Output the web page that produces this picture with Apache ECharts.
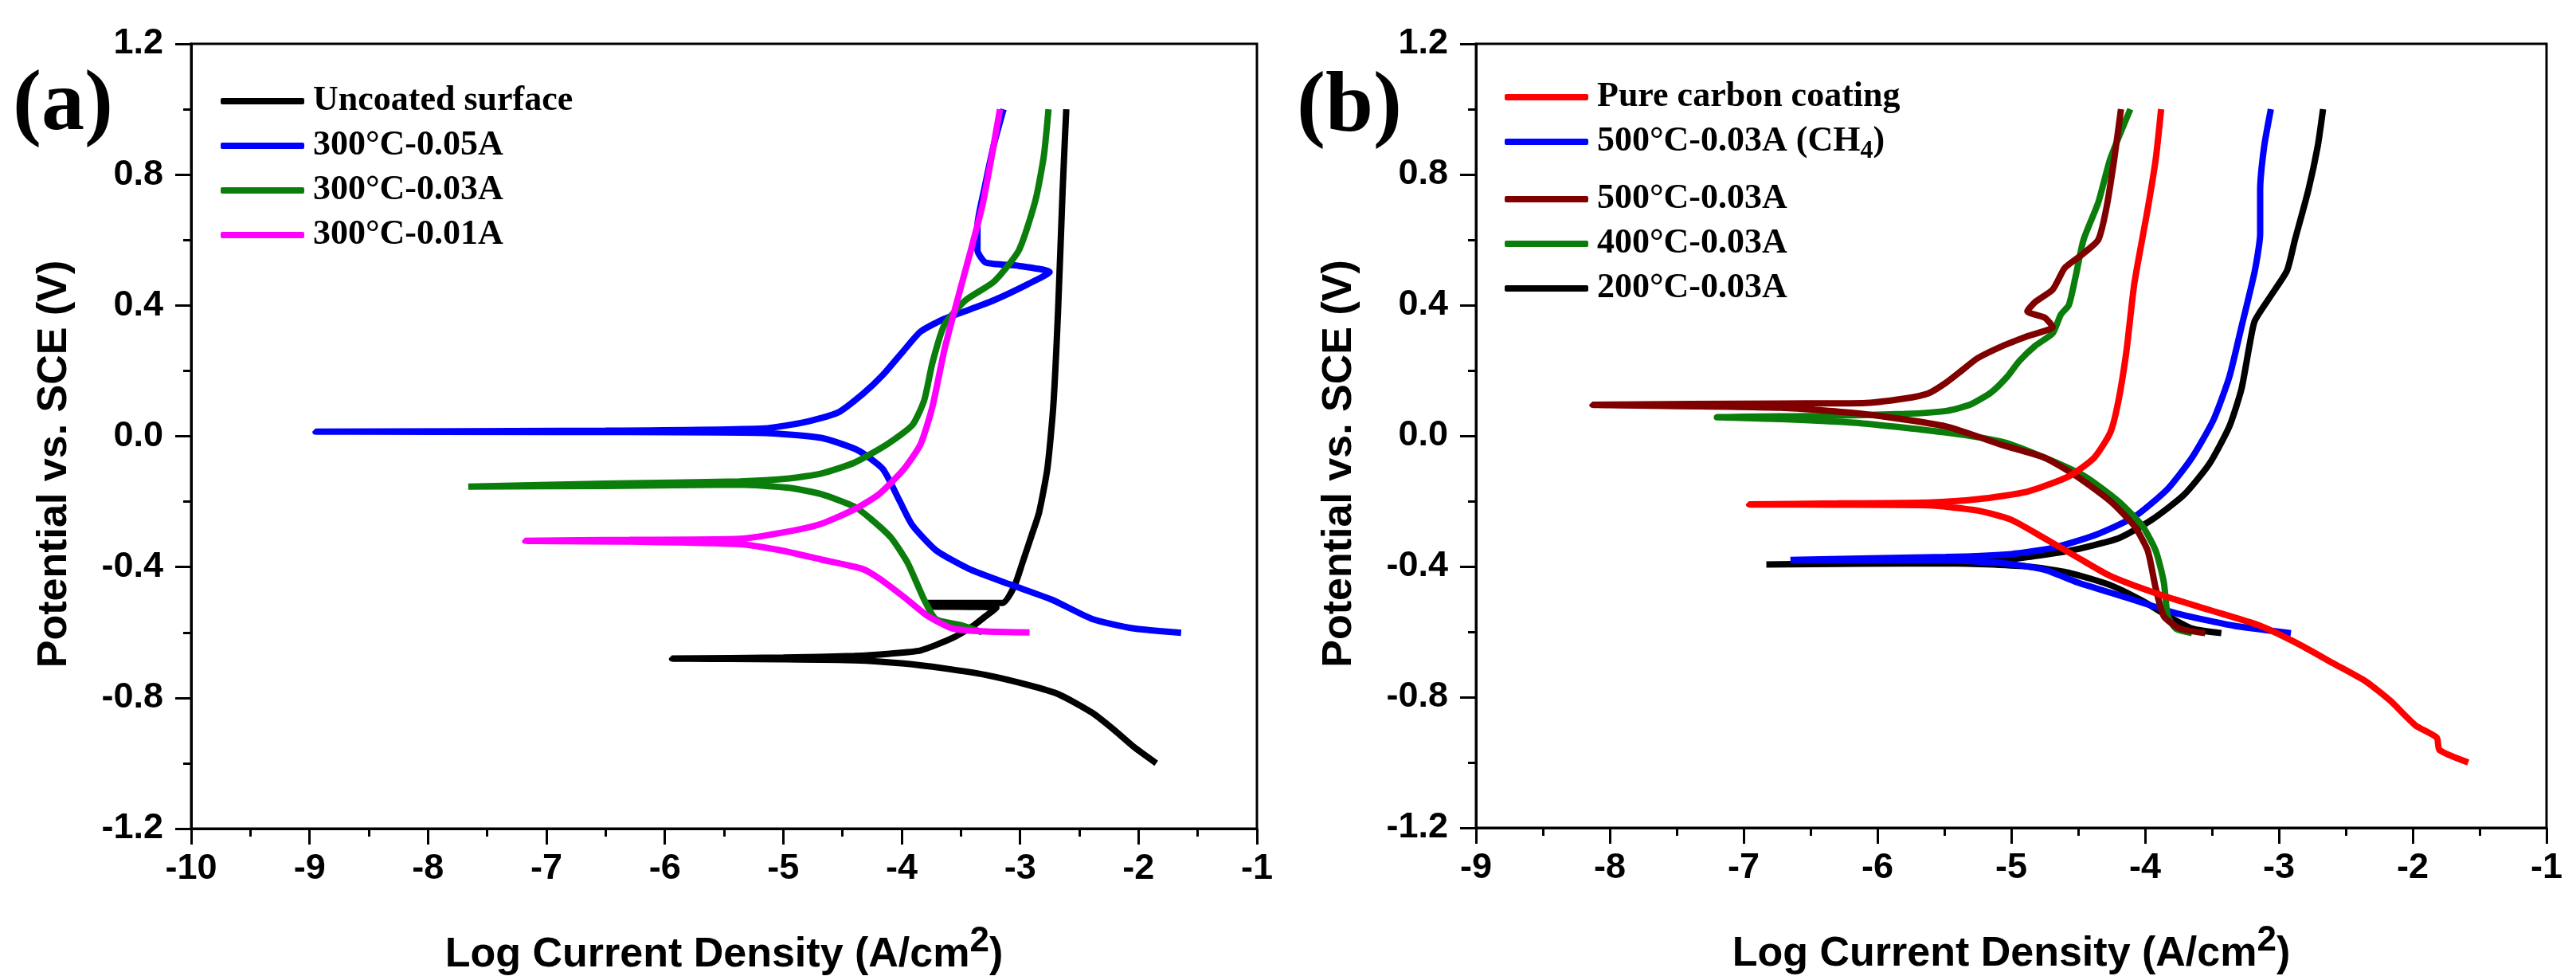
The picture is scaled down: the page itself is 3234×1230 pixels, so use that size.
<!DOCTYPE html>
<html>
<head>
<meta charset="utf-8">
<script src="https://cdn.jsdelivr.net/npm/echarts@6.0.0/dist/echarts.min.js"></script>
<style>
  html, body { margin: 0; padding: 0; background: #fff; }
  #main { width: 3234px; height: 1230px; }
</style>
</head>
<body>
<div id="main"></div>
<script>
// ---------- data, [log current density, potential] ----------
// panel (a)
var uncoated = [[-1.85,-1.0],[-2.04,-0.95],[-2.2,-0.9],[-2.39,-0.846],[-2.67,-0.79],[-2.94,-0.76],[-3.29,-0.73],[-3.64,-0.71],[-3.98,-0.695],[-4.4,-0.685],[-5.0,-0.682],[-5.94,-0.68],[-5.0,-0.677],[-4.4,-0.672],[-4.1,-0.665],[-3.84,-0.655],[-3.57,-0.617],[-3.39,-0.578],[-3.29,-0.55],[-3.2,-0.525],[-3.78,-0.52],[-3.78,-0.51],[-3.15,-0.51],[-3.05,-0.46],[-2.98,-0.387],[-2.9,-0.3],[-2.84,-0.234],[-2.77,-0.1],[-2.72,0.09],[-2.68,0.378],[-2.64,0.76],[-2.61,1.0]];
var c300_005 = [[-1.64,-0.601],[-2.04,-0.588],[-2.39,-0.559],[-2.73,-0.5],[-3.08,-0.454],[-3.43,-0.406],[-3.71,-0.349],[-3.91,-0.272],[-4.02,-0.196],[-4.16,-0.1],[-4.37,-0.043],[-4.68,-0.005],[-5.16,0.01],[-6.5,0.013],[-8.95,0.014],[-6.5,0.017],[-5.16,0.024],[-4.82,0.043],[-4.54,0.072],[-4.33,0.129],[-4.16,0.187],[-3.98,0.263],[-3.84,0.32],[-3.64,0.359],[-3.43,0.387],[-3.22,0.416],[-2.94,0.464],[-2.75,0.502],[-3.01,0.521],[-3.29,0.531],[-3.36,0.569],[-3.36,0.645],[-3.3,0.76],[-3.22,0.894],[-3.14,1.0]];
var c300_003 = [[-3.32,-0.6],[-3.5,-0.578],[-3.71,-0.56],[-3.81,-0.5],[-3.95,-0.387],[-4.09,-0.31],[-4.26,-0.253],[-4.4,-0.215],[-4.68,-0.177],[-4.95,-0.158],[-5.37,-0.148],[-6.5,-0.152],[-7.66,-0.154],[-6.5,-0.145],[-5.37,-0.138],[-4.95,-0.129],[-4.68,-0.114],[-4.4,-0.081],[-4.12,-0.024],[-3.91,0.034],[-3.81,0.11],[-3.74,0.225],[-3.64,0.34],[-3.46,0.416],[-3.22,0.473],[-3.01,0.569],[-2.87,0.722],[-2.8,0.856],[-2.76,1.0]];
var c300_001 = [[-2.92,-0.6],[-3.29,-0.597],[-3.57,-0.588],[-3.78,-0.55],[-3.98,-0.492],[-4.19,-0.435],[-4.33,-0.406],[-4.68,-0.377],[-5.02,-0.349],[-5.37,-0.33],[-6.3,-0.322],[-7.18,-0.32],[-6.3,-0.317],[-5.37,-0.314],[-4.95,-0.291],[-4.68,-0.268],[-4.4,-0.224],[-4.19,-0.177],[-3.98,-0.1],[-3.84,-0.024],[-3.74,0.091],[-3.64,0.263],[-3.53,0.416],[-3.43,0.55],[-3.32,0.703],[-3.24,0.856],[-3.17,1.0]];
// panel (b)
var pureCarbon = [[-1.585,-1.0],[-1.8,-0.962],[-1.82,-0.924],[-1.98,-0.886],[-2.17,-0.81],[-2.35,-0.752],[-2.6,-0.695],[-2.85,-0.638],[-3.15,-0.58],[-3.52,-0.533],[-3.89,-0.486],[-4.26,-0.429],[-4.51,-0.371],[-4.75,-0.314],[-5.0,-0.257],[-5.25,-0.229],[-5.62,-0.213],[-6.3,-0.211],[-6.96,-0.21],[-6.3,-0.207],[-5.62,-0.204],[-5.25,-0.194],[-4.88,-0.171],[-4.57,-0.124],[-4.38,-0.067],[-4.26,0.01],[-4.2,0.105],[-4.14,0.257],[-4.08,0.467],[-3.98,0.695],[-3.92,0.848],[-3.88,1.0]];
var c500_ch4 = [[-2.91,-0.604],[-3.34,-0.581],[-3.77,-0.543],[-4.14,-0.495],[-4.51,-0.448],[-4.75,-0.41],[-5.06,-0.39],[-5.49,-0.381],[-6.65,-0.38],[-5.49,-0.371],[-5.0,-0.362],[-4.69,-0.343],[-4.38,-0.305],[-4.08,-0.248],[-3.83,-0.162],[-3.65,-0.067],[-3.49,0.048],[-3.37,0.181],[-3.28,0.333],[-3.18,0.505],[-3.14,0.619],[-3.14,0.752],[-3.11,0.886],[-3.06,1.0]];
var c500 = [[-3.55,-0.604],[-3.74,-0.59],[-3.86,-0.552],[-3.92,-0.467],[-3.98,-0.352],[-4.08,-0.276],[-4.26,-0.2],[-4.51,-0.124],[-4.75,-0.067],[-5.06,-0.029],[-5.49,0.029],[-6.11,0.067],[-6.72,0.086],[-8.13,0.095],[-6.72,0.099],[-6.11,0.1],[-5.8,0.114],[-5.62,0.13],[-5.49,0.162],[-5.37,0.2],[-5.25,0.238],[-5.06,0.276],[-4.88,0.305],[-4.69,0.333],[-4.75,0.362],[-4.88,0.381],[-4.82,0.41],[-4.69,0.448],[-4.6,0.514],[-4.48,0.552],[-4.35,0.6],[-4.29,0.695],[-4.23,0.848],[-4.18,1.0]];
var c400 = [[-3.65,-0.604],[-3.77,-0.59],[-3.83,-0.552],[-3.86,-0.448],[-3.92,-0.352],[-4.02,-0.276],[-4.2,-0.2],[-4.45,-0.124],[-4.75,-0.067],[-5.06,-0.019],[-5.49,0.01],[-6.11,0.038],[-6.72,0.051],[-7.2,0.057],[-6.42,0.061],[-5.8,0.067],[-5.49,0.076],[-5.31,0.095],[-5.15,0.133],[-5.03,0.181],[-4.94,0.229],[-4.82,0.276],[-4.69,0.314],[-4.63,0.371],[-4.57,0.4],[-4.52,0.486],[-4.46,0.6],[-4.35,0.714],[-4.26,0.848],[-4.11,1.0]];
var c200 = [[-3.43,-0.604],[-3.65,-0.59],[-3.83,-0.552],[-4.02,-0.505],[-4.26,-0.457],[-4.57,-0.419],[-4.88,-0.4],[-5.49,-0.39],[-6.83,-0.394],[-5.49,-0.385],[-5.0,-0.377],[-4.57,-0.352],[-4.2,-0.314],[-3.95,-0.257],[-3.71,-0.181],[-3.52,-0.086],[-3.37,0.029],[-3.28,0.143],[-3.22,0.276],[-3.18,0.352],[-3.06,0.429],[-2.94,0.505],[-2.88,0.6],[-2.78,0.752],[-2.71,0.886],[-2.67,1.0]];

var namesA = ['Uncoated surface', '300°C-0.05A', '300°C-0.03A', '300°C-0.01A'];
var namesB = ['Pure carbon coating', '500°C-0.03A (CH4)', '500°C-0.03A', '400°C-0.03A', '200°C-0.03A'];
var xRangeA = [-10, -1];
var xRangeB = [-9, -1];
var yRange = [-1.2, 1.2];

var chart = echarts.init(document.getElementById('main'));

var sansBold = { fontFamily: 'Liberation Sans', fontWeight: 'bold', color: '#000' };
var serifLegend = { fontFamily: 'Liberation Serif', fontWeight: 'bold', fontSize: 44, lineHeight: 44, color: '#000' };

function xAxisFor(idx, range) {
    return {
        type: 'value',
        gridIndex: idx,
        min: range[0],
        max: range[1],
        interval: 1,
        name: 'Log Current Density (A/cm{sup|2})',
        nameLocation: 'middle',
        nameGap: 120,
        nameMoveOverlap: false,
        nameTextStyle: Object.assign({ fontSize: 52, rich: {
            sup: { fontFamily: 'Liberation Sans', fontWeight: 'bold', fontSize: 44, padding: [0, 0, 34, 0] }
        } }, sansBold),
        axisLine: { onZero: false, lineStyle: { color: '#000', width: 3 } },
        axisTick: { inside: false, length: 20, lineStyle: { color: '#000', width: 3 } },
        minorTick: { show: true, splitNumber: 2, length: 10, lineStyle: { color: '#000', width: 3 } },
        splitLine: { show: false },
        axisLabel: Object.assign({ fontSize: 45, margin: 28 }, sansBold)
    };
}

function yAxisFor(idx) {
    return {
        type: 'value',
        gridIndex: idx,
        min: yRange[0],
        max: yRange[1],
        interval: 0.4,
        name: 'Potential vs. SCE (V)',
        nameLocation: 'middle',
        nameRotate: 90,
        nameGap: 145,
        nameMoveOverlap: false,
        nameTextStyle: Object.assign({ fontSize: 52, padding: [0, 70, 0, 0] }, sansBold),
        axisLine: { onZero: false, lineStyle: { color: '#000', width: 3 } },
        axisTick: { inside: false, length: 20, lineStyle: { color: '#000', width: 3 } },
        minorTick: { show: true, splitNumber: 2, length: 10, lineStyle: { color: '#000', width: 3 } },
        splitLine: { show: false },
        axisLabel: Object.assign({ fontSize: 45, margin: 35, formatter: function (v) { return v.toFixed(1); } }, sansBold)
    };
}

function curve(name, data, color, idx) {
    return {
        name: name,
        type: 'line',
        xAxisIndex: idx,
        yAxisIndex: idx,
        data: data,
        showSymbol: false,
        symbol: 'none',
        smooth: 0.2,
        lineStyle: { color: color, width: 8 },
        itemStyle: { color: color },
        z: 3
    };
}

function legendFor(names, left, top) {
    return {
        data: names,
        orient: 'vertical',
        left: left,
        top: top,
        icon: 'roundRect',
        itemWidth: 105,
        itemHeight: 8,
        itemGap: 12,
        formatter: function (n) {
            return n === '500°C-0.03A (CH4)' ? '500°C-0.03A (CH{sub|4})' : n;
        },
        textStyle: Object.assign({ padding: [0, 0, 0, 6], rich: {
            sub: { fontFamily: 'Liberation Serif', fontWeight: 'bold', fontSize: 32, padding: [24, 0, 0, 0] }
        } }, serifLegend)
    };
}

chart.setOption({
    backgroundColor: '#fff',
    animation: false,
    grid: [
        { left: 240, right: 1656, top: 55, bottom: 190, show: true, borderColor: '#000', borderWidth: 3, outerBoundsMode: 'none' },
        { left: 1853, right: 37, top: 55, bottom: 191, show: true, borderColor: '#000', borderWidth: 3, outerBoundsMode: 'none' }
    ],
    xAxis: [xAxisFor(0, xRangeA), xAxisFor(1, xRangeB)],
    yAxis: [yAxisFor(0), yAxisFor(1)],
    legend: [
        legendFor(namesA, 272, 100),
        legendFor(namesB.slice(0, 2), 1884, 95),
        legendFor(namesB.slice(2), 1884, 223)
    ],
    graphic: [
        { type: 'text', left: 16, top: 80, style: { text: '(a)', font: 'bold 108px "Liberation Serif"', fill: '#000' } },
        { type: 'text', left: 1628, top: 82, style: { text: '(b)', font: 'bold 108px "Liberation Serif"', fill: '#000' } }
    ],
    series: [
        curve(namesA[0], uncoated, '#000000', 0),
        curve(namesA[1], c300_005, '#0000ff', 0),
        curve(namesA[2], c300_003, '#0b7d0b', 0),
        curve(namesA[3], c300_001, '#ff00ff', 0),
        curve(namesB[4], c200, '#000000', 1),
        curve(namesB[1], c500_ch4, '#0000ff', 1),
        curve(namesB[3], c400, '#0b7d0b', 1),
        curve(namesB[2], c500, '#800000', 1),
        curve(namesB[0], pureCarbon, '#ff0000', 1)
    ]
});
</script>
</body>
</html>
